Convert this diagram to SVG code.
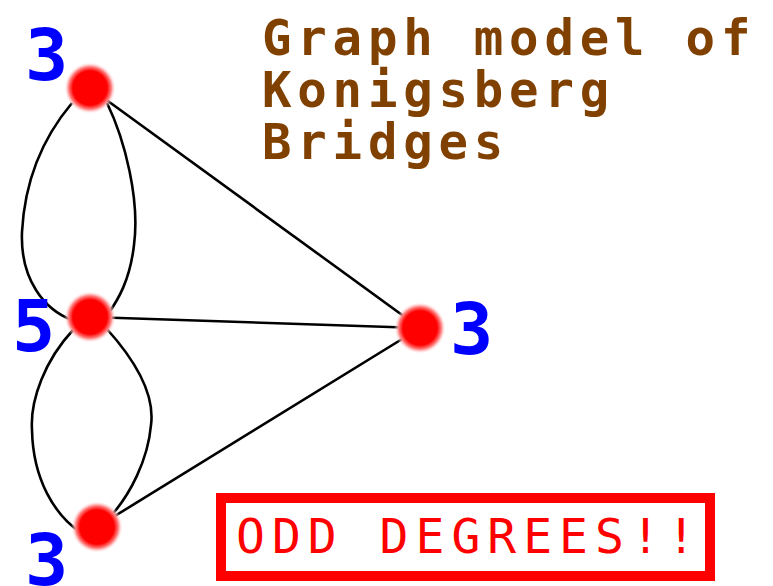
<svg xmlns="http://www.w3.org/2000/svg" width="773" height="586" viewBox="0 0 773 586">
<style>
.edge{fill:none;stroke:#000;stroke-width:2.6}
.deg{font-family:"DejaVu Sans Mono","Liberation Mono",monospace;font-weight:bold;font-size:72px;fill:#0000ff}
.title{font-family:"DejaVu Sans Mono","Liberation Mono",monospace;font-weight:bold;font-size:49px;fill:#804000;letter-spacing:5.8px}
.odd{font-family:"DejaVu Sans Mono","Liberation Mono",monospace;font-size:48px;fill:#ff0000;letter-spacing:7px}
</style>
<defs>
<radialGradient id="dot">
<stop offset="0" stop-color="#ff0000"/>
<stop offset="0.66" stop-color="#ff0000"/>
<stop offset="0.82" stop-color="#ff8080"/>
<stop offset="1" stop-color="#ffffff" stop-opacity="0"/>
</radialGradient>
</defs>
<rect width="773" height="586" fill="#fff"/>
<g id="title">
<text class="title" x="262" y="55">Graph model of</text>
<text class="title" x="262" y="107">Konigsberg</text>
<text class="title" x="262" y="159">Bridges</text>
</g>
<g id="connectors">
<line class="edge" x1="90" y1="88" x2="420" y2="328"/>
<line class="edge" x1="90" y1="317" x2="420" y2="328"/>
<line class="edge" x1="97" y1="527" x2="420" y2="328"/>
<path class="edge" d="M72,103 C45,135 25,175 22,232 C20,280 45,310 72,320"/>
<path class="edge" d="M107,103 C125,140 140,200 134,245 C130,280 118,300 108,314"/>
<path class="edge" d="M73,330 C45,360 30,400 32,430 C33,480 55,515 80,532"/>
<path class="edge" d="M106,328 C135,360 155,395 151,425 C148,460 130,495 110,517"/>
</g>
<g id="nodeA"><circle cx="90" cy="88" r="26" fill="url(#dot)"/><text class="deg" x="25" y="80">3</text></g>
<g id="nodeB"><circle cx="90" cy="317" r="26" fill="url(#dot)"/><text class="deg" x="12" y="351">5</text></g>
<g id="nodeC"><circle cx="420" cy="328" r="26" fill="url(#dot)"/><text class="deg" x="450" y="354">3</text></g>
<g id="nodeD"><circle cx="97" cy="527" r="26" fill="url(#dot)"/><text class="deg" x="25" y="585">3</text></g>
<g id="note">
<rect x="221" y="498" width="489" height="78" fill="#fff" stroke="#ff0000" stroke-width="10"/>
<text class="odd" x="236" y="553">ODD DEGREES!!</text>
</g>
</svg>
